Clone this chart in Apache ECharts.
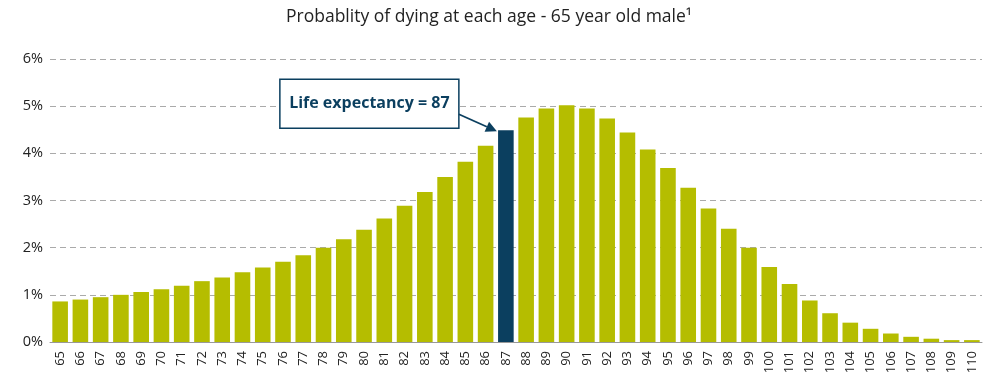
<!DOCTYPE html>
<html><head><meta charset="utf-8">
<script src="https://cdn.jsdelivr.net/npm/echarts@6/dist/echarts.min.js"></script>
<style>html,body{margin:0;padding:0;background:#fff}#c{width:994px;height:392px}</style>
</head><body><div id="c"></div>
<script>
const ages = ['65','66','67','68','69','70','71','72','73','74','75','76','77','78','79','80','81','82','83','84','85','86','87','88','89','90','91','92','93','94','95','96','97','98','99','100','101','102','103','104','105','106','107','108','109','110'];
const probability = [0.86,0.90,0.95,1.00,1.06,1.12,1.19,1.29,1.37,1.48,1.58,1.70,1.84,2.00,2.18,2.38,2.62,2.89,3.18,3.50,3.82,4.16,4.49,4.76,4.95,5.02,4.95,4.74,4.44,4.08,3.69,3.27,2.83,2.40,2.00,1.59,1.23,0.88,0.61,0.41,0.28,0.18,0.11,0.07,0.04,0.04];
const yTicks = [0,1,2,3,4,5,6];
const titleText = 'Probablity of dying at each age - 65 year old male\u00B9';
const highlightAge = '87';
const annotationText = 'Life expectancy = 87';

const GREEN = '#b5bd00', NAVY = '#0b3f5f';
const chart = echarts.init(document.getElementById('c'));
const font = '"Open Sans", "Noto Sans", sans-serif';
chart.setOption({
  animation: false,
  title: {text: titleText, left: 281, top: 3,
    textStyle: {fontFamily: font, fontSize: 17.5, fontWeight: 'normal', color: '#222'}},
  grid: {left: 50, right: 12, top: 59, bottom: 50},
  xAxis: {type: 'category', data: ages,
    axisLine: {lineStyle: {color: '#999', width: 1}},
    axisTick: {show: false},
    axisLabel: {rotate: 90, interval: 0, fontFamily: font, fontSize: 13, color: '#222', margin: 9}},
  yAxis: {type: 'value', min: yTicks[0], max: yTicks[yTicks.length-1], interval: 1,
    axisLine: {show: false}, axisTick: {show: false},
    axisLabel: {formatter: '{value}%', fontFamily: font, fontSize: 14.5, color: '#222', margin: 7},
    splitLine: {lineStyle: {color: '#aaa', type: [6, 4], width: 1}}},
  series: [{type: 'bar', barCategoryGap: '23%',
    data: probability.map((v, i) => ({value: v, itemStyle: {color: ages[i] === highlightAge ? NAVY : GREEN}}))}]
});

const hi = ages.indexOf(highlightAge);
const p = chart.convertToPixel({seriesIndex: 0}, [hi, probability[hi]]);
const tip = [p[0] - 9, p[1] + 1];
const box = {x: tip[0] - 217, y: tip[1] - 52, w: 179, h: 49};
const start = [box.x + box.w, box.y + 35];
const ang = Math.atan2(tip[1] - start[1], tip[0] - start[0]);
const hl = 11, hw = 5.5;
const bx = tip[0] - hl * Math.cos(ang), by = tip[1] - hl * Math.sin(ang);
chart.setOption({graphic: [
  {type: 'rect', shape: {x: box.x, y: box.y, width: box.w, height: box.h},
   style: {fill: '#fff', stroke: NAVY, lineWidth: 1.5}, z: 100},
  {type: 'text', x: box.x + box.w / 2, y: box.y + box.h / 2,
   style: {text: annotationText, fill: NAVY, font: 'bold 16px ' + font, align: 'center', verticalAlign: 'middle'}, z: 101},
  {type: 'line', shape: {x1: start[0], y1: start[1], x2: bx, y2: by},
   style: {stroke: NAVY, lineWidth: 1.8}, z: 100},
  {type: 'polygon', shape: {points: [tip,
     [bx + hw * Math.sin(ang), by - hw * Math.cos(ang)],
     [bx - hw * Math.sin(ang), by + hw * Math.cos(ang)]]},
   style: {fill: NAVY}, z: 100}
]});
</script></body></html>
